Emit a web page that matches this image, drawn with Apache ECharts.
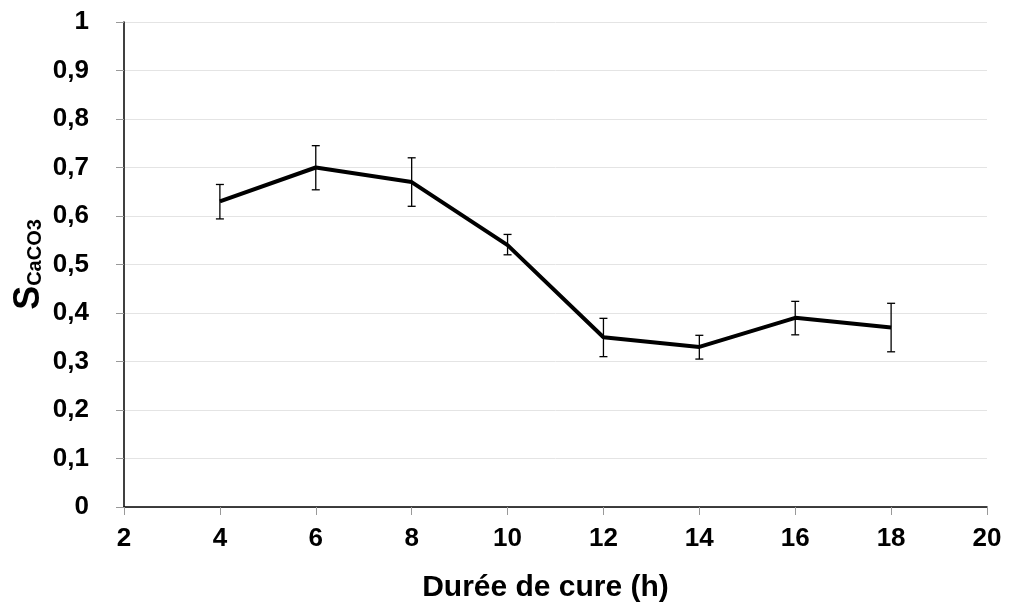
<!DOCTYPE html>
<html><head><meta charset="utf-8">
<script src="https://cdn.jsdelivr.net/npm/echarts@6/dist/echarts.min.js"></script>
<style>html,body{margin:0;padding:0;background:#fff}#c{width:1009px;height:612px}</style>
</head><body><div id="c"></div>
<script>
const hours = [4, 6, 8, 10, 12, 14, 16, 18];
const sValues = [0.63, 0.70, 0.67, 0.54, 0.35, 0.33, 0.39, 0.37];
const errLow = [0.594, 0.654, 0.62, 0.52, 0.31, 0.305, 0.355, 0.32];
const errHigh = [0.665, 0.745, 0.72, 0.562, 0.389, 0.354, 0.424, 0.42];
const xTitle = 'Durée de cure (h)';

const chart = echarts.init(document.getElementById('c'));
const lineData = hours.map((h, i) => [h, sValues[i]]);
const errData = hours.map((h, i) => [h, errLow[i], errHigh[i]]);
const fam = '"Liberation Sans", Arial, sans-serif';
chart.setOption({
  animation: false,
  grid: { left: 124, right: 22, top: 22, bottom: 105, outerBoundsMode: 'none', containLabel: false },
  xAxis: {
    type: 'value', min: 2, max: 20, interval: 2,
    name: xTitle, nameLocation: 'middle', nameGap: 66, nameMoveOverlap: false,
    nameTextStyle: { fontFamily: fam, fontWeight: 'bold', fontSize: 30, color: '#000', padding: [0, 20, 0, 0] },
    axisLine: { show: true, lineStyle: { color: '#000', width: 1.5 } },
    axisTick: { show: true, length: 8, lineStyle: { color: '#999' } },
    axisLabel: { margin: 19, fontFamily: fam, fontWeight: 'bold', fontSize: 26, color: '#000' },
    splitLine: { show: false }
  },
  yAxis: {
    type: 'value', min: 0, max: 1, interval: 0.1,
    name: '{s|S}{sub|CaCO3}', nameLocation: 'middle', nameGap: 77, nameRotate: 90, nameMoveOverlap: false,
    nameTextStyle: {
      rich: {
        s: { fontFamily: fam, fontWeight: 'bold', fontSize: 36, color: '#000' },
        sub: { fontFamily: fam, fontWeight: 'bold', fontSize: 20, color: '#000', padding: [13, 0, 0, 0] }
      }
    },
    axisLine: { show: true, lineStyle: { color: '#000', width: 1.5 } },
    axisTick: { show: true, length: 8, lineStyle: { color: '#999' } },
    axisLabel: {
      margin: 35, fontFamily: fam, fontWeight: 'bold', fontSize: 26, color: '#000',
      formatter: v => String(Math.round(v * 10) / 10).replace('.', ',')
    },
    splitLine: { show: true, lineStyle: { color: '#e4e4e4', width: 1 } }
  },
  series: [
    {
      type: 'line', data: lineData, showSymbol: false, symbol: 'none',
      lineStyle: { color: '#000', width: 4 }, z: 3
    },
    {
      type: 'custom', data: errData, z: 4,
      renderItem: (params, api) => {
        const x = api.value(0);
        const lo = api.coord([x, api.value(1)]);
        const hi = api.coord([x, api.value(2)]);
        const w = 4;
        const st = { stroke: '#000', lineWidth: 1.3 };
        return {
          type: 'group', children: [
            { type: 'line', shape: { x1: lo[0], y1: lo[1], x2: hi[0], y2: hi[1] }, style: st },
            { type: 'line', shape: { x1: lo[0] - w, y1: lo[1], x2: lo[0] + w, y2: lo[1] }, style: st },
            { type: 'line', shape: { x1: hi[0] - w, y1: hi[1], x2: hi[0] + w, y2: hi[1] }, style: st }
          ]
        };
      }
    }
  ]
});
</script></body></html>
